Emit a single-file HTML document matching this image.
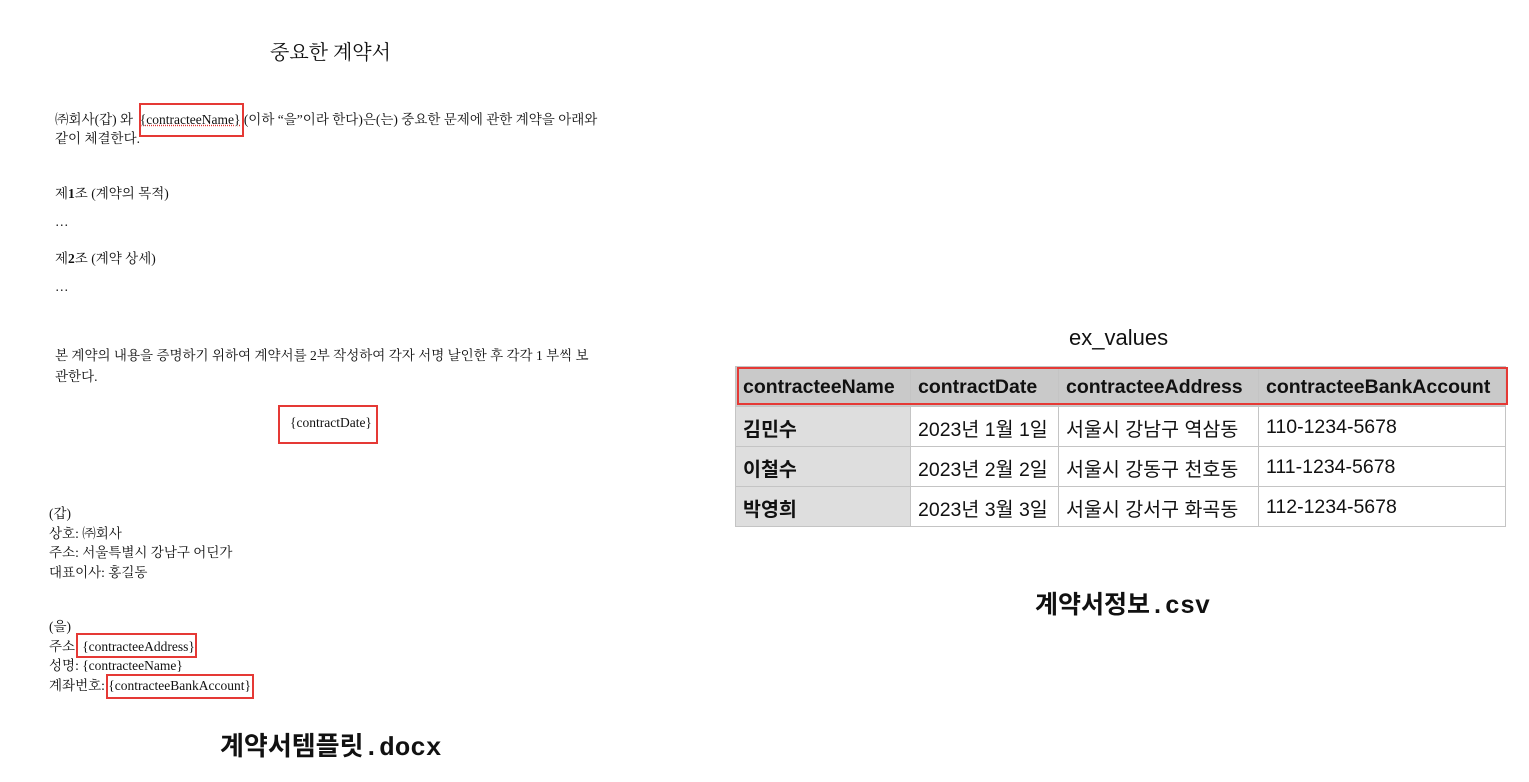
<!DOCTYPE html>
<html><head><meta charset="utf-8"><style>
body{margin:0;width:1529px;height:782px;background:#fff;position:relative;overflow:hidden}
.s{position:absolute;white-space:nowrap;font-family:"Liberation Serif","Noto Serif CJK KR","Noto Serif CJK SC",serif;font-size:13.5px;line-height:18px;color:#111}
.box{position:absolute;border:2px solid #e53935;box-sizing:border-box}
.ss{font-family:"Liberation Sans","Noto Sans CJK KR",sans-serif}
table{position:absolute;left:735px;top:366px;width:770px;border-collapse:collapse;font-family:"Liberation Sans","Noto Sans CJK KR",sans-serif;font-size:19.5px;color:#111;table-layout:fixed}
td,th{height:40px;padding:1px 7px 0;text-align:left;border:1px solid #c4c4c4;box-sizing:border-box;white-space:nowrap;overflow:hidden}
th{background:#c9c9c9;font-weight:bold}
td.f{background:#dedede;font-weight:bold}
</style></head><body>
<div class="s" style="left:270px;top:41px;font-size:20px;line-height:24px">중요한 계약서</div>
<div class="s" style="left:55px;top:111px">㈜회사(갑) 와 &nbsp;<span style="text-decoration:underline dotted #d33">{contracteeName}</span> (이하 “을”이라 한다)은(는) 중요한 문제에 관한 계약을 아래와</div>
<div class="box" style="left:139px;top:103px;width:105px;height:34px"></div>
<div class="s" style="left:55px;top:130px">같이 체결한다.</div>
<div class="s" style="left:55px;top:185px">제<b>1</b>조 (계약의 목적)</div>
<div class="s" style="left:55px;top:213px">…</div>
<div class="s" style="left:55px;top:250px">제<b>2</b>조 (계약 상세)</div>
<div class="s" style="left:55px;top:278px">…</div>
<div class="s" style="left:55px;top:347px">본 계약의 내용을 증명하기 위하여 계약서를 2부 작성하여 각자 서명 날인한 후 각각 1 부씩 보</div>
<div class="s" style="left:55px;top:368px">관한다.</div>
<div class="s" style="left:290px;top:414px">{contractDate}</div>
<div class="box" style="left:278px;top:405px;width:100px;height:39px"></div>
<div class="s" style="left:49px;top:504px;line-height:19.5px">(갑)<br>상호: ㈜회사<br>주소: 서울특별시 강남구 어딘가<br>대표이사: 홍길동</div>
<div class="s" style="left:49px;top:617px;line-height:19.7px">(을)<br>주소: {contracteeAddress}<br>성명: {contracteeName}<br>계좌번호: {contracteeBankAccount}</div>
<div class="box" style="left:76px;top:633px;width:121px;height:25px"></div>
<div class="box" style="left:106px;top:674px;width:148px;height:25px"></div>
<div class="s" style="left:220px;top:732px;font-family:'Liberation Mono','Noto Sans CJK KR',monospace;font-weight:bold;font-size:26px;line-height:32px">계약서템플릿.docx</div>

<div class="s ss" style="left:1069px;top:325px;font-size:22px;line-height:26px">ex_values</div>
<table>
<colgroup><col style="width:175px"><col style="width:148px"><col style="width:200px"><col style="width:247px"></colgroup>
<tr><th>contracteeName</th><th>contractDate</th><th>contracteeAddress</th><th>contracteeBankAccount</th></tr>
<tr><td class="f">김민수</td><td>2023년 1월 1일</td><td>서울시 강남구 역삼동</td><td>110-1234-5678</td></tr>
<tr><td class="f">이철수</td><td>2023년 2월 2일</td><td>서울시 강동구 천호동</td><td>111-1234-5678</td></tr>
<tr><td class="f">박영희</td><td>2023년 3월 3일</td><td>서울시 강서구 화곡동</td><td>112-1234-5678</td></tr>
</table>
<div class="box" style="left:737px;top:367px;width:771px;height:38px"></div>
<div class="s" style="left:1035px;top:591px;font-family:'Liberation Mono','Noto Sans CJK KR',monospace;font-weight:bold;font-size:25px;line-height:32px">계약서정보.csv</div>
</body></html>
